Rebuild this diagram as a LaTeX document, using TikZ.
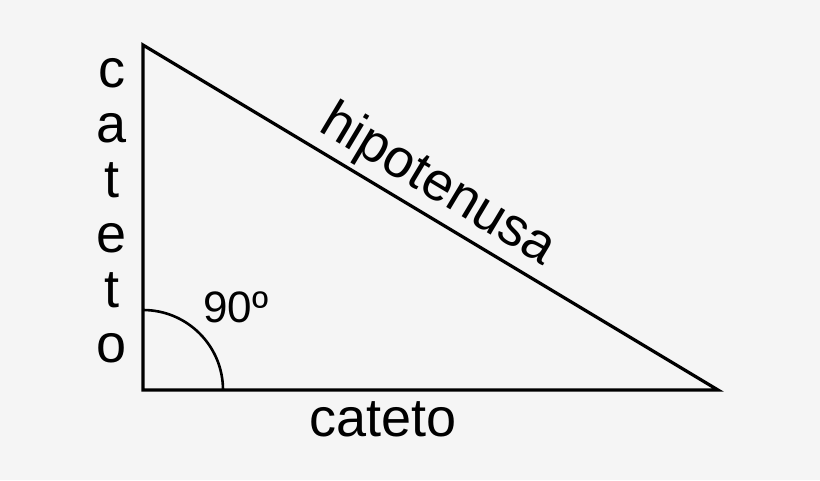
\documentclass[tikz,border=0pt]{standalone}
\usepackage{fontspec}
\setmainfont{Liberation Sans}
\definecolor{bggray}{HTML}{F5F5F5}
\begin{document}
\begin{tikzpicture}[x=1pt,y=-1pt,
  side/.style={line width=3.2pt, line join=miter},
  lbl/.style={inner sep=0pt, font=\fontsize{54}{55}\selectfont},
  anglbl/.style={inner sep=0pt, font=\fontsize{44}{48}\selectfont}]
\fill[bggray] (0,0) rectangle (820,480);
% vertices
\coordinate (A) at (143,45);
\coordinate (B) at (143,390);
\coordinate (C) at (718,390);
\draw[side] (A) -- (B) -- (C) -- cycle;
% right angle mark
\draw[line width=2.6pt] (B) ++(0,-80) arc[start angle=-90,end angle=0,radius=80];
\node[anglbl, anchor=base west] (ang) at (203,322) {90º};
% labels
\path (A) -- (C) node[lbl, sloped, above=5pt, pos=0.485] (hyp) {hipotenusa};
\node[lbl, anchor=base] (base) at (383,436) {cateto};
\node[lbl, align=center, anchor=north] (leg) at (112,58) {c\\a\\t\\e\\t\\o};
\end{tikzpicture}
\end{document}
